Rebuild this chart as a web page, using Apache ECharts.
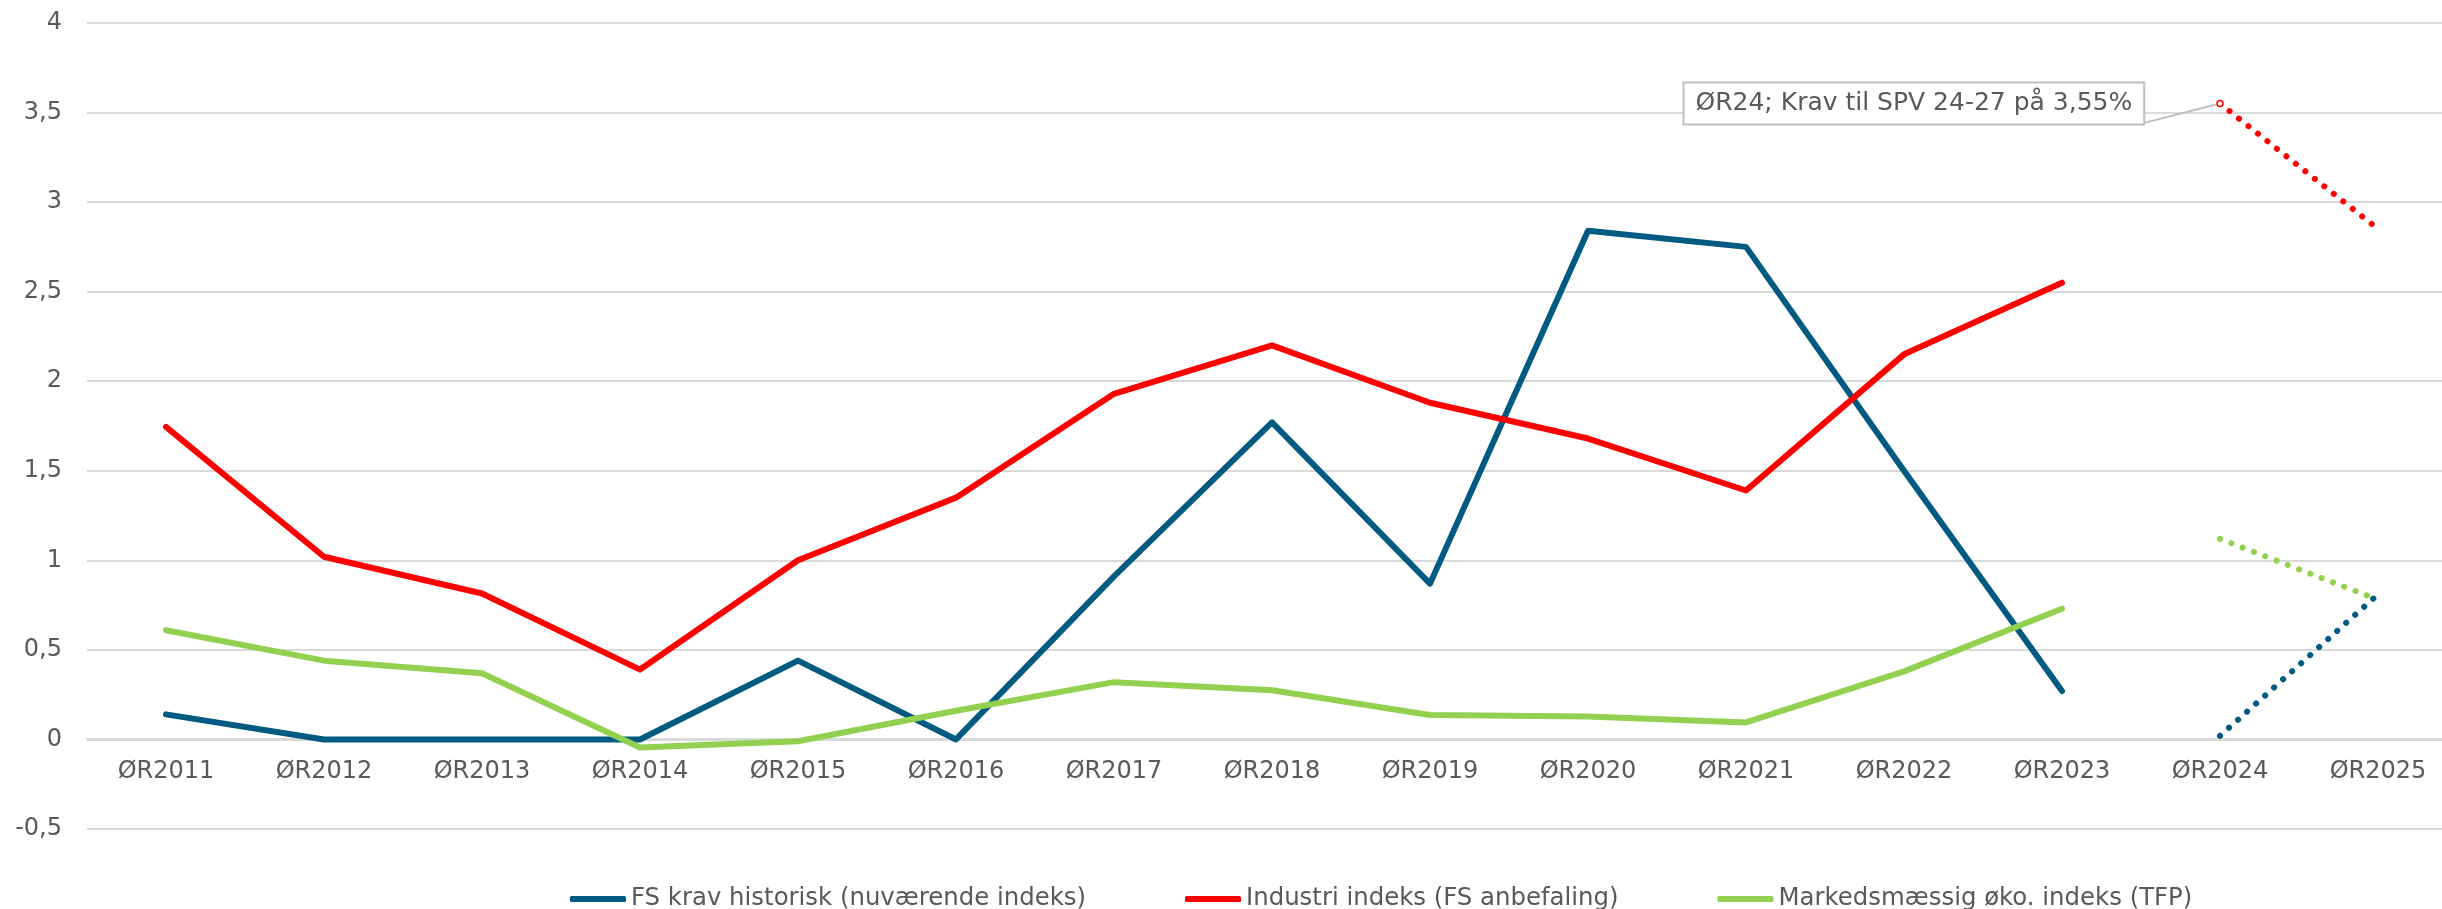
<!DOCTYPE html>
<html>
<head>
<meta charset="utf-8">
<style>
  html, body { margin: 0; padding: 0; background: #fff; overflow: hidden; width: 2442px; height: 909px; }
  #chart { width: 2458px; height: 909px; }
</style>
<script src="https://cdn.jsdelivr.net/npm/echarts@6/dist/echarts.min.js"></script>
</head>
<body>
<div id="chart"></div>
<script>
const categories = ['ØR2011','ØR2012','ØR2013','ØR2014','ØR2015','ØR2016','ØR2017','ØR2018','ØR2019','ØR2020','ØR2021','ØR2022','ØR2023','ØR2024','ØR2025'];

const fsKrav      = [0.14, 0, 0, 0, 0.44, 0, 0.91, 1.77, 0.87, 2.84, 2.75, 1.50, 0.27, null, null];
const industri    = [1.745, 1.02, 0.815, 0.39, 1.00, 1.35, 1.93, 2.20, 1.88, 1.68, 1.39, 2.15, 2.55, null, null];
const markeds     = [0.61, 0.44, 0.37, -0.045, -0.01, 0.16, 0.32, 0.275, 0.136, 0.128, 0.095, 0.38, 0.73, null, null];

const fsKravProg    = [null, null, null, null, null, null, null, null, null, null, null, null, null, 0.02, 0.81];
const industriProg  = [null, null, null, null, null, null, null, null, null, null, null, null, null, 3.55, 2.85];
const markedsProg   = [null, null, null, null, null, null, null, null, null, null, null, null, null, 1.12, 0.78];

const seriesNames = ['FS krav historisk (nuværende indeks)', 'Industri indeks (FS anbefaling)', 'Markedsmæssig øko. indeks (TFP)'];
const annotationText = 'ØR24; Krav til SPV 24-27 på 3,55%';
const annotationIndex = 13;

const yMin = -0.5, yMax = 4, yInterval = 0.5;

const colors = ['#005a82', '#ff0000', '#92d050'];
const FONT = 'DejaVu Sans';
const TXT = '#595959';

const chart = echarts.init(document.getElementById('chart'));

function solid(name, data, color) {
  return {
    name, type: 'line', data, color,
    showSymbol: false, symbol: 'none', connectNulls: false,
    lineStyle: { width: 6, color, cap: 'round', join: 'round' },
    emphasis: { disabled: true },
    animation: false, z: 3
  };
}
function dotted(name, data, color, extra) {
  const s = {
    name, type: 'line', data, color,
    showSymbol: false, symbol: 'none',
    lineStyle: { width: 6, color, type: [0.1, 12], cap: 'round' },
    emphasis: { disabled: true },
    animation: false, z: 3
  };
  return Object.assign(s, extra || {});
}

const industriProgData = industriProg.map((v, i) => {
  if (v === null) return null;
  if (i !== annotationIndex) return { value: v, symbol: 'none' };
  return {
    value: v,
    symbol: 'circle',
    symbolSize: 6,
    itemStyle: { color: '#ffffff', borderColor: '#ff0000', borderWidth: 1.5 },
    label: {
      show: true,
      position: 'left',
      distance: 73,
      formatter: annotationText,
      fontFamily: FONT,
      fontSize: 25,
      lineHeight: 30,
      color: TXT,
      backgroundColor: '#ffffff',
      borderColor: '#bfbfbf',
      borderWidth: 2,
      padding: [5, 11, 5, 11]
    },
    labelLine: { show: true, lineStyle: { color: '#bfbfbf', width: 2 } }
  };
});

const legendIcon = 'roundRect';

const option = {
  animation: false,
  backgroundColor: '#ffffff',
  grid: { left: 87, right: 1, top: 23, bottom: 80, containLabel: false },
  xAxis: {
    type: 'category',
    data: categories,
    boundaryGap: true,
    position: 'bottom',
    offset: -90,
    axisLine: { show: true, onZero: false, lineStyle: { color: '#d9d9d9', width: 2 } },
    axisTick: { show: false },
    axisLabel: { fontFamily: FONT, fontSize: 24, color: TXT, margin: 21, interval: 0 },
    splitLine: { show: false }
  },
  yAxis: {
    type: 'value',
    min: yMin, max: yMax, interval: yInterval,
    axisLine: { show: false },
    axisTick: { show: false },
    axisLabel: {
      fontFamily: FONT, fontSize: 24, color: TXT, margin: 25,
      formatter: v => String(v).replace('.', ',')
    },
    splitLine: { show: true, lineStyle: { color: '#d9d9d9', width: 2 } }
  },
  legend: {
    data: seriesNames.map(n => ({ name: n, icon: legendIcon })),
    left: 565,
    top: 882,
    itemWidth: 56,
    itemHeight: 6,
    itemGap: 99,
    textStyle: { fontFamily: FONT, fontSize: 24.4, color: TXT },
    selectedMode: false
  },
  series: [
    solid(seriesNames[0], fsKrav, colors[0]),
    solid(seriesNames[1], industri, colors[1]),
    solid(seriesNames[2], markeds, colors[2]),
    dotted('FS krav prognose', fsKravProg, colors[0]),
    dotted('Industri prognose', industriProgData, colors[1], { z: 4, showSymbol: true, symbol: 'circle', symbolSize: 6 }),
    dotted('Markeds prognose', markedsProg, colors[2])
  ]
};
chart.setOption(option);
</script>
</body>
</html>
